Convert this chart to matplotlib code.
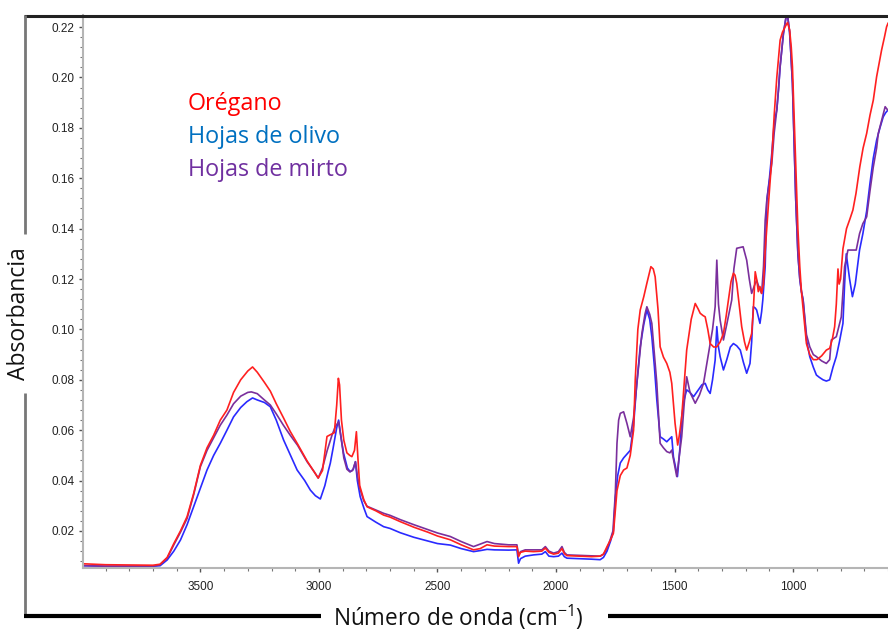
import matplotlib.pyplot as plt
from matplotlib.lines import Line2D
from matplotlib.ticker import MultipleLocator, FormatStrFormatter

plt.rcParams['mathtext.default'] = 'regular'

# --- espectros FTIR (número de onda en cm-1, absorbancia) ---
wn_oregano = [4000, 3900, 3800, 3700, 3670, 3640, 3612, 3584, 3556, 3528, 3500, 3472, 3444, 3416, 3388,
              3360, 3330, 3300, 3280, 3260, 3230, 3205, 3180, 3150, 3121, 3090, 3050, 3020, 3003, 2985,
              2966, 2952, 2935, 2925, 2918, 2913, 2905, 2895, 2882, 2870, 2861, 2850, 2842, 2835, 2828,
              2811, 2797, 2760, 2727, 2700, 2657, 2600, 2540, 2500, 2446, 2400, 2348, 2320, 2291, 2260,
              2200, 2165, 2158, 2150, 2130, 2095, 2060, 2045, 2030, 2010, 1990, 1975, 1965, 1954, 1900,
              1850, 1814, 1800, 1785, 1770, 1758, 1750, 1743, 1729, 1715, 1701, 1687, 1673, 1666, 1655,
              1645, 1630, 1617, 1600, 1590, 1582, 1570, 1561, 1547, 1533, 1520, 1512, 1498, 1487, 1480,
              1470, 1460, 1449, 1430, 1413, 1400, 1392, 1380, 1371, 1360, 1350, 1335, 1322, 1308, 1294,
              1283, 1273, 1262, 1252, 1245, 1238, 1228, 1217, 1205, 1196, 1185, 1175, 1168, 1160, 1154,
              1147, 1140, 1133, 1125, 1118, 1104, 1090, 1080, 1069, 1055, 1045, 1034, 1024, 1015, 1008,
              1003, 996, 989, 980, 972, 965, 958, 951, 944, 930, 915, 900, 880, 860, 846,
              835, 825, 818, 811, 806, 800, 790, 775, 760, 748, 735, 719, 705, 690, 676,
              662, 648, 635, 627, 615, 606, 600]
abs_oregano = [0.0070, 0.0066, 0.0065, 0.0064, 0.0068, 0.0095, 0.0150, 0.0200, 0.0257, 0.0350, 0.0460, 0.0530, 0.0580, 0.0640, 0.0680,
               0.0750, 0.0800, 0.0835, 0.0851, 0.0830, 0.0790, 0.0755, 0.0705, 0.0650, 0.0595, 0.0545, 0.0478, 0.0435, 0.0410, 0.0440,
               0.0575, 0.0582, 0.0590, 0.0700, 0.0806, 0.0780, 0.0640, 0.0560, 0.0510, 0.0500, 0.0495, 0.0520, 0.0594, 0.0480, 0.0380,
               0.0325, 0.0296, 0.0280, 0.0263, 0.0255, 0.0237, 0.0215, 0.0195, 0.0180, 0.0165, 0.0145, 0.0125, 0.0130, 0.0145, 0.0140,
               0.0138, 0.0138, 0.0098, 0.0115, 0.0120, 0.0118, 0.0120, 0.0132, 0.0115, 0.0108, 0.0112, 0.0130, 0.0110, 0.0102, 0.0100,
               0.0098, 0.0100, 0.0108, 0.0138, 0.0165, 0.0191, 0.0280, 0.0360, 0.0420, 0.0442, 0.0450, 0.0500, 0.0600, 0.0800, 0.1000,
               0.1077, 0.1130, 0.1183, 0.1249, 0.1240, 0.1209, 0.1080, 0.0931, 0.0890, 0.0865, 0.0830, 0.0786, 0.0627, 0.0541, 0.0580,
               0.0653, 0.0780, 0.0918, 0.1040, 0.1103, 0.1080, 0.1064, 0.1055, 0.1050, 0.1000, 0.0944, 0.0930, 0.0931, 0.0950, 0.0984,
               0.1050, 0.1117, 0.1190, 0.1223, 0.1215, 0.1183, 0.1100, 0.1011, 0.0950, 0.0918, 0.0950, 0.0984, 0.1077, 0.1229, 0.1200,
               0.1150, 0.1170, 0.1143, 0.1180, 0.1310, 0.1500, 0.1680, 0.1850, 0.2000, 0.2148, 0.2180, 0.2201, 0.2218, 0.2190, 0.2120,
               0.2043, 0.1850, 0.1645, 0.1400, 0.1249, 0.1150, 0.1080, 0.1010, 0.0944, 0.0900, 0.0880, 0.0880, 0.0895, 0.0918, 0.0925,
               0.0960, 0.1011, 0.1100, 0.1240, 0.1180, 0.1200, 0.1320, 0.1400, 0.1440, 0.1474, 0.1540, 0.1645, 0.1720, 0.1778, 0.1850,
               0.1910, 0.2003, 0.2070, 0.2109, 0.2160, 0.2201, 0.2215]

wn_olivo = [4000, 3900, 3800, 3700, 3670, 3640, 3612, 3584, 3556, 3528, 3500, 3472, 3444, 3416, 3388,
            3360, 3330, 3304, 3280, 3260, 3230, 3205, 3180, 3149, 3120, 3092, 3060, 3036, 3015, 2994,
            2975, 2960, 2952, 2940, 2925, 2917, 2905, 2896, 2880, 2868, 2855, 2846, 2838, 2826, 2810,
            2797, 2760, 2727, 2700, 2657, 2600, 2540, 2500, 2446, 2400, 2348, 2320, 2291, 2260, 2200,
            2165, 2158, 2150, 2130, 2095, 2060, 2045, 2030, 2010, 1990, 1975, 1965, 1954, 1900, 1850,
            1814, 1800, 1785, 1770, 1758, 1750, 1740, 1729, 1715, 1701, 1687, 1673, 1660, 1645, 1630,
            1617, 1605, 1596, 1585, 1575, 1561, 1547, 1533, 1526, 1512, 1505, 1488, 1477, 1470, 1460,
            1449, 1435, 1420, 1400, 1385, 1371, 1360, 1350, 1340, 1329, 1322, 1315, 1308, 1294, 1280,
            1265, 1252, 1238, 1223, 1210, 1196, 1182, 1175, 1168, 1160, 1154, 1140, 1133, 1128, 1118,
            1111, 1100, 1090, 1080, 1069, 1062, 1055, 1041, 1030, 1024, 1015, 1010, 1003, 996, 989,
            980, 972, 965, 958, 944, 930, 915, 902, 890, 874, 860, 846, 832, 818, 805,
            790, 783, 776, 762, 750, 738, 720, 706, 690, 676, 662, 648, 634, 620, 610,
            600]
abs_olivo = [0.0062, 0.0060, 0.0060, 0.0060, 0.0062, 0.0085, 0.0120, 0.0164, 0.0225, 0.0297, 0.0370, 0.0442, 0.0500, 0.0548, 0.0600,
             0.0653, 0.0690, 0.0713, 0.0728, 0.0720, 0.0710, 0.0693, 0.0640, 0.0561, 0.0500, 0.0442, 0.0400, 0.0362, 0.0340, 0.0327,
             0.0380, 0.0440, 0.0469, 0.0530, 0.0610, 0.0640, 0.0560, 0.0508, 0.0450, 0.0435, 0.0445, 0.0475, 0.0400, 0.0336, 0.0290,
             0.0257, 0.0235, 0.0217, 0.0210, 0.0193, 0.0175, 0.0160, 0.0150, 0.0144, 0.0130, 0.0118, 0.0122, 0.0127, 0.0125, 0.0124,
             0.0125, 0.0072, 0.0090, 0.0100, 0.0105, 0.0108, 0.0118, 0.0100, 0.0098, 0.0100, 0.0112, 0.0098, 0.0092, 0.0090, 0.0088,
             0.0086, 0.0095, 0.0120, 0.0160, 0.0200, 0.0330, 0.0420, 0.0470, 0.0490, 0.0505, 0.0520, 0.0620, 0.0780, 0.0931, 0.1020,
             0.1077, 0.1040, 0.0971, 0.0850, 0.0720, 0.0574, 0.0565, 0.0554, 0.0561, 0.0574, 0.0495, 0.0416, 0.0535, 0.0653, 0.0720,
             0.0760, 0.0750, 0.0733, 0.0760, 0.0780, 0.0786, 0.0760, 0.0746, 0.0800, 0.0878, 0.1011, 0.0930, 0.0892, 0.0839, 0.0880,
             0.0930, 0.0944, 0.0935, 0.0918, 0.0870, 0.0826, 0.0865, 0.0950, 0.1090, 0.1085, 0.1077, 0.1024, 0.1070, 0.1117, 0.1249,
             0.1513, 0.1600, 0.1700, 0.1820, 0.1871, 0.1950, 0.2043, 0.2175, 0.2240, 0.2250, 0.2180, 0.2100, 0.1977, 0.1750, 0.1513,
             0.1300, 0.1200, 0.1150, 0.1117, 0.0960, 0.0892, 0.0850, 0.0819, 0.0810, 0.0800, 0.0795, 0.0800, 0.0850, 0.0892, 0.0950,
             0.1024, 0.1180, 0.1300, 0.1200, 0.1130, 0.1180, 0.1315, 0.1380, 0.1470, 0.1580, 0.1680, 0.1751, 0.1800, 0.1844, 0.1860,
             0.1871]

wn_mirto = [4000, 3900, 3800, 3700, 3670, 3640, 3612, 3584, 3556, 3528, 3500, 3472, 3444, 3416, 3388,
            3360, 3330, 3300, 3285, 3260, 3230, 3205, 3180, 3150, 3121, 3090, 3050, 3020, 3003, 2985,
            2965, 2945, 2931, 2917, 2905, 2895, 2882, 2870, 2858, 2846, 2838, 2828, 2811, 2797, 2760,
            2727, 2700, 2657, 2600, 2540, 2500, 2446, 2400, 2348, 2320, 2291, 2260, 2200, 2165, 2158,
            2150, 2130, 2095, 2060, 2045, 2030, 2010, 1990, 1975, 1965, 1954, 1900, 1850, 1814, 1800,
            1785, 1770, 1760, 1750, 1743, 1736, 1729, 1715, 1701, 1687, 1673, 1659, 1638, 1625, 1617,
            1605, 1596, 1585, 1575, 1561, 1547, 1533, 1520, 1512, 1500, 1491, 1480, 1470, 1460, 1449,
            1435, 1413, 1395, 1378, 1365, 1350, 1340, 1329, 1322, 1315, 1308, 1294, 1280, 1259, 1250,
            1238, 1225, 1211, 1196, 1185, 1175, 1165, 1154, 1145, 1133, 1125, 1118, 1111, 1100, 1090,
            1080, 1069, 1062, 1055, 1041, 1030, 1024, 1015, 1010, 1003, 996, 989, 980, 972, 965,
            958, 944, 930, 915, 902, 880, 860, 846, 839, 828, 818, 805, 797, 783, 769,
            755, 734, 720, 706, 690, 676, 662, 648, 641, 627, 612, 605, 600]
abs_mirto = [0.0063, 0.0060, 0.0060, 0.0060, 0.0066, 0.0092, 0.0145, 0.0195, 0.0250, 0.0345, 0.0455, 0.0520, 0.0570, 0.0620, 0.0660,
             0.0705, 0.0735, 0.0750, 0.0752, 0.0745, 0.0720, 0.0700, 0.0665, 0.0620, 0.0580, 0.0540, 0.0475, 0.0435, 0.0410, 0.0450,
             0.0520, 0.0580, 0.0614, 0.0633, 0.0560, 0.0490, 0.0445, 0.0435, 0.0440, 0.0475, 0.0420, 0.0370, 0.0320, 0.0298, 0.0283,
             0.0270, 0.0262, 0.0245, 0.0225, 0.0205, 0.0192, 0.0178, 0.0158, 0.0138, 0.0148, 0.0158, 0.0150, 0.0145, 0.0145, 0.0105,
             0.0118, 0.0125, 0.0125, 0.0125, 0.0138, 0.0120, 0.0112, 0.0118, 0.0138, 0.0115, 0.0105, 0.0103, 0.0101, 0.0100, 0.0108,
             0.0130, 0.0170, 0.0200, 0.0350, 0.0548, 0.0640, 0.0667, 0.0673, 0.0627, 0.0574, 0.0650, 0.0786, 0.0984, 0.1060, 0.1090,
             0.1060, 0.1024, 0.0900, 0.0786, 0.0548, 0.0530, 0.0515, 0.0510, 0.0521, 0.0460, 0.0416, 0.0500, 0.0574, 0.0700, 0.0812,
             0.0750, 0.0707, 0.0740, 0.0786, 0.0860, 0.0944, 0.1000, 0.1090, 0.1275, 0.1100, 0.1037, 0.0958, 0.1020, 0.1117, 0.1240,
             0.1322, 0.1325, 0.1328, 0.1275, 0.1200, 0.1143, 0.1170, 0.1196, 0.1170, 0.1143, 0.1250, 0.1434, 0.1513, 0.1590, 0.1659,
             0.1780, 0.1871, 0.1950, 0.2043, 0.2175, 0.2240, 0.2250, 0.2180, 0.2100, 0.1977, 0.1750, 0.1513, 0.1300, 0.1200, 0.1150,
             0.1117, 0.0980, 0.0931, 0.0900, 0.0892, 0.0875, 0.0865, 0.0880, 0.0958, 0.0965, 0.0971, 0.1020, 0.1050, 0.1249, 0.1315,
             0.1315, 0.1315, 0.1380, 0.1420, 0.1447, 0.1550, 0.1645, 0.1720, 0.1778, 0.1830, 0.1884, 0.1875, 0.1871]

series_names = ['Orégano', 'Hojas de olivo', 'Hojas de mirto']
label_colors = ['#ff0000', '#0070c0', '#7030a0']

W, H = 888, 631
fig = plt.figure(figsize=(W / 100, H / 100), dpi=100)


def fx(px):
    return px / W


def fy(py):
    return 1 - py / H


ax = fig.add_axes([fx(83), fy(568), fx(888) - fx(83), fy(15) - fy(568)])

ax.plot(wn_olivo, abs_olivo, color='#2a2aff', lw=1.2)
ax.plot(wn_mirto, abs_mirto, color='#7a2f9c', lw=1.2)
ax.plot(wn_oregano, abs_oregano, color='#ff2020', lw=1.2)

ax.set_xlim(3995, 600)
ax.set_ylim(0.0053, 0.2248)

ax.xaxis.set_major_locator(MultipleLocator(500))
ax.xaxis.set_minor_locator(MultipleLocator(100))
ax.yaxis.set_major_locator(MultipleLocator(0.02))
ax.yaxis.set_minor_locator(MultipleLocator(0.004))
ax.yaxis.set_major_formatter(FormatStrFormatter('%.2f'))

for side in ['top', 'right']:
    ax.spines[side].set_visible(False)
for side in ['left', 'bottom']:
    ax.spines[side].set_color('#b5b5b5')
    ax.spines[side].set_linewidth(1.5)

ax.tick_params(which='major', direction='out', length=3, width=1, color='#555555',
               labelsize=8.5, labelcolor='#222222', pad=3)
ax.tick_params(which='minor', direction='out', length=2, width=0.8, color='#777777')
ax.tick_params(axis='x', pad=6)
for lab in ax.get_xticklabels() + ax.get_yticklabels():
    lab.set_family('Liberation Sans')

# marco exterior con los títulos de los ejes intercalados
frame = [
    ((24, 888), (15.5, 15.5), '#222222', 2.2),
    ((25, 25), (15, 234), '#777777', 2.0),
    ((25, 25), (393, 617), '#777777', 2.0),
    ((24, 321), (616, 616), '#000000', 3.0),
    ((608, 888), (616, 616), '#000000', 3.0),
]
for xs, ys, c, lw in frame:
    fig.add_artist(Line2D([fx(x) for x in xs], [fy(y) for y in ys], color=c, lw=lw,
                          solid_capstyle='butt'))

fig.text(fx(19), fy(314), 'Absorbancia', rotation=90, ha='center', va='center',
         fontsize=16.5, family='Open Sans', color='#111111')
fig.text(fx(458), fy(617), 'Número de onda (cm$^{-1}$)', ha='center', va='center',
         fontsize=16.3, family='Open Sans', color='#111111')

for i, (name, c) in enumerate(zip(series_names, label_colors)):
    fig.text(fx(188), fy(104 + 33 * i), name, ha='left', va='center',
             fontsize=16.8, family='Open Sans', color=c)

fig.savefig('out.png', dpi=100)
